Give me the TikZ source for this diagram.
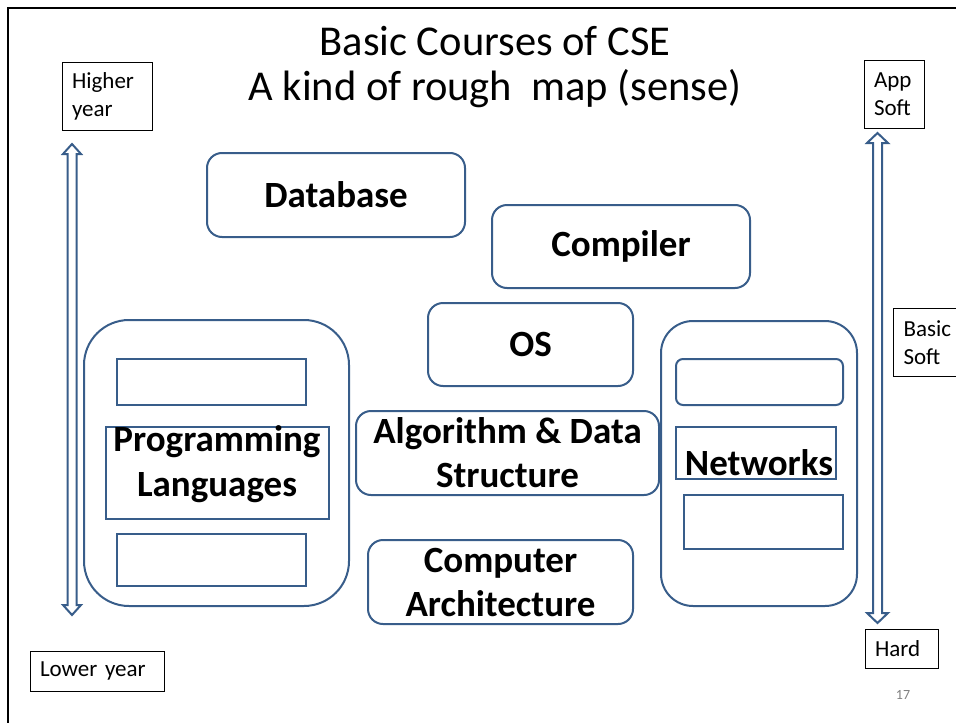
\documentclass[tikz,border=0pt]{standalone}
\usepackage{fontspec}
\setmainfont{Carlito}
\definecolor{boxblue}{RGB}{56,93,138}
% hollow vertical double-headed arrow: centre x, top tip y, bottom tip y, head half width
\newcommand\vdblarrow[4]{%
  \draw[hollowarrow]
    (#1,#2) -- ++(#4,10) -- (#1+4.5,#2+10) -- (#1+4.5,#3-10) -- (#1+#4,#3-10)
    -- (#1,#3) -- (#1-#4,#3-10) -- (#1-4.5,#3-10) -- (#1-4.5,#2+10)
    -- (#1-#4,#2+10) -- cycle;}
\begin{document}
\begin{tikzpicture}[x=1pt,y=-1pt,
  course/.style={draw=boxblue, line width=2pt, rounded corners=15pt,
    font=\fontsize{37}{44}\selectfont\bfseries, align=center},
  group/.style={draw=boxblue, line width=2pt},
  bigtext/.style={font=\fontsize{37}{45}\selectfont\bfseries, align=center},
  lbl/.style={draw, line width=1pt, inner xsep=10pt, align=left,
    font=\fontsize{23}{28}\selectfont},
  hollowarrow/.style={draw=boxblue, line width=2pt, fill=white, line join=miter}]
\useasboundingbox (0,0) rectangle (956,723);

% slide frame
\draw[line width=2.5pt] (8,723) -- (8,8) -- (956,8);

% title
\node[font=\fontsize{42.5}{45}\selectfont, anchor=base] (t1) at (495,55) {Basic Courses of CSE};
\node[font=\fontsize{42.5}{45}\selectfont, anchor=base] (t2) at (495,100) {A kind of rough~ map (sense)};

% single courses
\node[course, minimum width=258, minimum height=84] (db) at (336,195) {Database};
\node[course, minimum width=258, minimum height=83] (comp) at (621,246.5) {Compiler};
\node[course, minimum width=205, minimum height=83] (os) at (530.5,344.5) {OS};
\node[course, minimum width=303, minimum height=84] (algo) at (507.5,453) {Algorithm \& Data\\Structure};
\node[course, minimum width=265, minimum height=84] (arch) at (500.5,582) {Computer\\Architecture};

% programming languages group
\node[group, rounded corners=45pt, minimum width=265, minimum height=286] (pl) at (216.5,463) {};
\node[group, minimum width=189, minimum height=46] (pl1) at (211.5,382) {};
\node[group, minimum width=223, minimum height=92] (pl2) at (217.5,473) {};
\node[group, minimum width=189, minimum height=52] (pl3) at (211.5,560) {};
\node[bigtext] (pltext) at (217,464) {Programming\\Languages};

% networks group
\node[group, rounded corners=32pt, minimum width=196, minimum height=285] (net) at (759,463.5) {};
\node[group, rounded corners=7pt, minimum width=167, minimum height=46] (net1) at (759.5,382) {};
\node[group, minimum width=160, minimum height=52] (net2) at (756,453) {};
\node[group, minimum width=159, minimum height=54] (net3) at (763.5,521.5) {};
\node[bigtext] (nettext) at (759,463) {Networks};

% axis labels
\node[lbl, text width=70, minimum height=68] (higher) at (107,96) {Higher\\year};
\node[lbl, text width=40, minimum height=68] (app) at (894,94) {App\\Soft};
\node[lbl, text width=60, minimum height=68, anchor=north west] (basic) at (893,308) {Basic\\Soft};
\node[lbl, text width=114, minimum height=40] (lower) at (97,671) {Lower year};
\node[lbl, text width=53, minimum height=39] (hard) at (901.5,648.5) {Hard};

% axis arrows
\vdblarrow{72}{144}{615}{9}
\vdblarrow{877.5}{133}{623}{10.5}

% page number
\node[font=\fontsize{14}{16}\selectfont, text=gray] (page) at (903,695) {17};
\end{tikzpicture}
\end{document}
